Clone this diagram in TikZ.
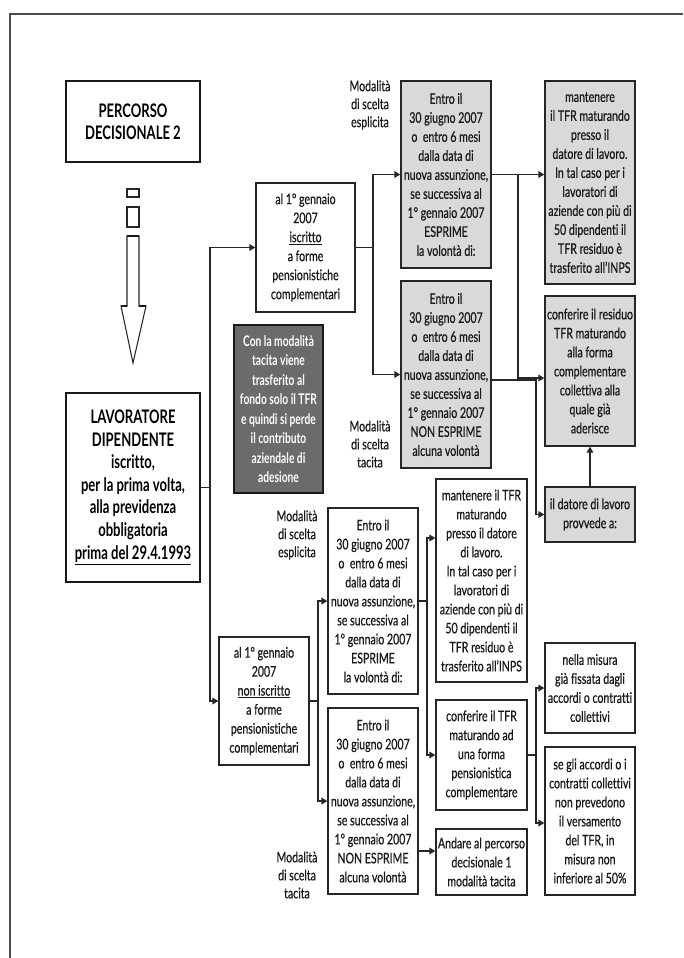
\documentclass[tikz,border=0pt]{standalone}
\usepackage{fontspec}
\setmainfont{Lato}[FakeStretch=0.72,FakeBold=0.6,Ligatures={NoCommon}]
\newfontfamily\hdfont{Lato}[FakeStretch=0.70,Ligatures={NoCommon}]
\usetikzlibrary{arrows.meta,calc}
\newcommand\bxn[7]{\node[#1, minimum width={(#4-#2)*0.75pt}, minimum height={(#5-#3)*0.75pt}] (#6) at ({(#2+#4)/2},{(#3+#5)/2}) {#7};}
\begin{document}
\begin{tikzpicture}[x=0.75pt,y=-0.75pt,
  bx/.style={draw=black!85, line width=1pt, inner sep=0pt, align=center, text=black!90,
     font=\fontsize{11}{14.25}\selectfont},
  gbx/.style={bx, fill=black!15},
  hbx/.style={draw=black!90, line width=1.3pt, inner sep=0pt, align=center, text=black},
  dbx/.style={draw=black!90, line width=1.3pt, fill=black!58, inner sep=0pt, align=center, text=white,
     font=\hdfont\bfseries\fontsize{11}{14.6}\selectfont},
  lbl/.style={align=center, inner sep=0pt, text=black!90, font=\fontsize{11}{13.5}\selectfont},
  ln/.style={draw=black!85, line width=1pt},
  arr/.style={ln, -{Triangle[length=4.5pt,width=5pt]}}]
\useasboundingbox (0,0) rectangle (683,958);
% frame
\draw[black!70, line width=1.5pt] (10,958) -- (10,14) -- (683,14);

% title
\bxn{hbx, font=\hdfont\bfseries\fontsize{14}{16.75}\selectfont}{66}{81}{200}{162}{a}{PERCORSO\\DECISIONALE 2}
% block arrow
\draw[black!85, line width=0.8pt] (127,189) rectangle (139,197);
\draw[black!85, line width=0.8pt] (127,207) rectangle (139,227);
\draw[black!85, line width=0.8pt] (127,236) -- (139,236) -- (139,306) -- (146,306) -- (133,363) -- (121,306) -- (127,306) -- cycle;
\draw[black!90, line width=1.3pt] (127,236) -- (139,236);
\draw[black!90, line width=1.3pt] (121,306) -- (127,306) (139,306) -- (146,306);

\bxn{hbx, font=\hdfont\bfseries\fontsize{14}{16.9}\selectfont}{66}{393}{200}{582}{b}
  {LAVORATORE\\DIPENDENTE\\iscritto,\\per la prima volta,\\alla previdenza\\obbligatoria\\\underline{prima del 29.4.1993}}

% upper branch
\bxn{bx}{256}{183}{355}{312}{c}{al 1° gennaio\\2007\\\underline{iscritto}\\a forme\\pensionistiche\\complementari}
\bxn{gbx}{401}{81}{491}{268}{d1}{Entro il\\30 giugno 2007\\o~ entro 6 mesi\\dalla data di\\nuova assunzione,\\se successiva al\\1° gennaio 2007\\ESPRIME\\la volontà di:}
\bxn{gbx}{401}{281}{491}{468}{d2}{Entro il\\30 giugno 2007\\o~ entro 6 mesi\\dalla data di\\nuova assunzione,\\se successiva al\\1° gennaio 2007\\NON ESPRIME\\alcuna volontà}
\bxn{gbx}{545}{81}{635}{284}{e1}{mantenere\\il TFR maturando\\presso il\\datore di lavoro.\\In tal caso per i\\lavoratori di\\aziende con più di\\50 dipendenti il\\TFR residuo è\\trasferito all’INPS}
\bxn{gbx}{545}{296}{635}{446}{e2}{conferire il residuo\\TFR maturando\\alla forma\\complementare\\collettiva alla\\quale già\\aderisce}
\bxn{gbx}{545}{487}{635}{542}{f}{il datore di lavoro\\provvede a:}
\bxn{dbx}{234}{325}{323}{493}{g}{Con la modalità\\tacita viene\\trasferito al\\fondo solo il TFR\\e quindi si perde\\il contributo\\aziendale di\\adesione}
\node[lbl] (l1) at (370,105) {Modalità\\di scelta\\esplicita};
\node[lbl] (l2) at (370,444) {Modalità\\di scelta\\tacita};

% lower branch
\bxn{bx}{219}{637}{309}{765}{c2}{al 1° gennaio\\2007\\\underline{non iscritto}\\a forme\\pensionistiche\\complementari}
\bxn{bx}{328}{508}{418}{694}{h1}{Entro il\\30 giugno 2007\\o~ entro 6 mesi\\dalla data di\\nuova assunzione,\\se successiva al\\1° gennaio 2007\\ESPRIME\\la volontà di:}
\bxn{bx}{328}{708}{418}{894}{h2}{Entro il\\30 giugno 2007\\o~ entro 6 mesi\\dalla data di\\nuova assunzione,\\se successiva al\\1° gennaio 2007\\NON ESPRIME\\alcuna volontà}
\bxn{bx}{436}{479}{527}{682}{i1}{mantenere il TFR\\maturando\\presso il datore\\di lavoro.\\In tal caso per i\\lavoratori di\\aziende con più di\\50 dipendenti il\\TFR residuo è\\trasferito all’INPS}
\bxn{bx}{436}{700}{527}{810}{i2}{conferire il TFR\\maturando ad\\una forma\\pensionistica\\complementare}
\bxn{bx}{436}{829}{527}{895}{i3}{Andare al percorso\\decisionale 1\\modalità tacita}
\bxn{bx}{545}{643}{635}{733}{j1}{nella misura\\già fissata dagli\\accordi o contratti\\collettivi}
\bxn{bx}{545}{747}{635}{895}{j2}{se gli accordi o i\\contratti collettivi\\non prevedono\\il versamento\\del TFR, in\\misura non\\inferiore al 50\%}
\node[lbl] (l3) at (297,535) {Modalità\\di scelta\\esplicita};
\node[lbl] (l4) at (297,875) {Modalità\\di scelta\\tacita};

% connector coordinates
\coordinate (v1) at (210,0);
\coordinate (v2) at (373,0);
\coordinate (v3) at (518,0);
\coordinate (k1) at (536,380);
\coordinate (v5) at (318,0);
\coordinate (v6) at (427,0);
\coordinate (v7) at (536,0);
\coordinate (y378) at (0,378);
\coordinate (y538) at (0,538);
\coordinate (y851) at (0,851);
\coordinate (y823) at (0,823);

\draw[ln] (b.east) -- (b.east -| v1);
\draw[arr] (b.east -| v1) |- (c.west);
\draw[arr] (b.east -| v1) |- (c2.west);

\draw[ln] (c.east) -- (c.east -| v2);
\draw[arr] (c.east -| v2) |- (d1.west);
\draw[arr] (c.east -| v2) |- (d2.west);

\draw[arr] (d1.east) -- (d1.east -| e1.west);
\draw[arr] (d1.east -| v3) |- (e2.west |- y378);
\draw[arr] (d2.east |- k1) -- (k1) |- (f.west);
\draw[arr] (f.north) -- (e2.south);

\draw[ln] (c2.east) -- (c2.east -| v5);
\draw[arr] (c2.east -| v5) |- (h1.west);
\draw[arr] (c2.east -| v5) |- (h2.west);
\draw[ln] (h1.east) -- (h1.east -| v6);
\draw[arr] (h1.east -| v6) |- (i1.west |- y538);
\draw[arr] (h1.east -| v6) |- (i2.west);
\draw[arr] (h2.east |- y851) -- (i3.west |- y851);
\draw[ln] (i2.east) -- (i2.east -| v7);
\draw[arr] (i2.east -| v7) |- (j1.west);
\draw[arr] (i2.east -| v7) |- (j2.west |- y823);
\end{tikzpicture}
\end{document}
